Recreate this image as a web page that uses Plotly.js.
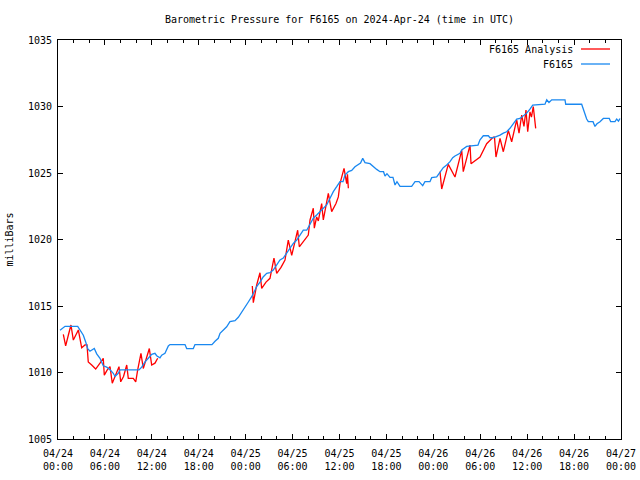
<!DOCTYPE html>
<html>
<head>
<meta charset="utf-8">
<script src="https://cdn.plot.ly/plotly-3.0.1.min.js"></script>
<style>html,body{margin:0;padding:0;background:#fff;}#chart{width:640px;height:480px;}</style>
</head>
<body>
<div id="chart"></div>
<script>
// Hours since 2024-04-24 00:00 UTC and pressure (mb)
var hBlue = [0.26,0.90,2.52,2.81,3.24,3.54,3.80,4.09,4.39,4.64,4.95,5.37,5.79,6.23,6.65,7.07,7.29,7.71,7.93,10.36,10.70,11.13,11.55,11.98,12.40,12.62,13.04,13.26,13.68,13.90,14.11,14.32,16.24,16.46,17.30,17.52,19.02,19.69,20.08,20.50,20.72,21.14,21.57,21.99,22.64,23.06,23.49,23.91,24.34,24.77,24.98,25.41,25.83,26.26,26.69,27.11,27.53,27.97,28.39,28.81,29.25,29.67,30.09,30.53,30.95,31.37,31.81,32.23,32.65,33.08,33.51,33.93,34.36,34.79,35.21,35.64,36.06,36.45,36.70,37.13,37.56,37.98,38.40,38.69,38.97,39.26,39.90,40.32,40.76,41.18,41.63,41.82,42.07,42.46,42.84,43.10,43.35,43.74,45.23,45.66,46.17,46.64,46.93,47.57,47.79,48.43,48.85,49.27,49.71,50.13,50.48,50.77,51.41,51.63,52.27,52.78,53.33,53.71,53.97,54.39,55.03,55.25,55.63,56.10,56.53,56.95,57.38,57.80,58.23,58.66,59.08,59.51,59.94,60.36,60.71,62.28,62.50,62.79,63.14,64.84,64.93,66.97,67.18,67.40,67.61,67.82,68.42,68.67,68.93,69.31,69.74,70.50,70.68,71.23,71.45,71.68,71.87];
var pBlue = [1013.17,1013.47,1013.47,1013.2,1012.8,1012.3,1011.8,1011.6,1011.7,1011.8,1011.4,1011.07,1010.5,1010.4,1010.2,1009.94,1009.7,1009.94,1010.2,1010.2,1010.4,1010.8,1011.07,1011.37,1011.44,1011.26,1011.1,1011.3,1011.44,1011.8,1012.0,1012.1,1012.1,1011.8,1011.8,1012.1,1012.1,1012.1,1012.35,1012.57,1012.95,1013.2,1013.44,1013.82,1013.9,1014.15,1014.57,1014.9,1015.3,1015.7,1015.95,1016.45,1016.8,1017.2,1017.46,1017.5,1017.7,1018.1,1018.46,1018.6,1018.96,1019.3,1019.7,1019.96,1020.3,1020.7,1020.7,1021.1,1021.6,1021.84,1022.1,1022.35,1022.6,1023.1,1023.6,1023.97,1024.35,1024.35,1024.85,1025.1,1025.2,1025.47,1025.6,1025.75,1026.1,1025.78,1025.7,1025.47,1025.27,1025.1,1025.1,1024.77,1024.95,1024.67,1024.67,1024.1,1024.35,1024.0,1024.0,1024.35,1024.35,1024.05,1024.35,1024.35,1024.65,1024.7,1025.1,1025.4,1025.6,1025.85,1026.15,1026.28,1026.48,1026.73,1027.0,1027.05,1027.1,1027.1,1027.5,1027.8,1027.8,1027.65,1027.65,1027.73,1027.85,1028.0,1028.1,1028.36,1028.73,1029.06,1029.1,1029.3,1029.5,1029.8,1030.1,1030.17,1030.5,1030.3,1030.5,1030.5,1030.17,1030.17,1029.74,1029.36,1029.06,1028.86,1028.86,1028.5,1028.7,1028.86,1029.1,1029.1,1028.86,1028.86,1029.06,1028.9,1029.1];

var hRed = [0.68,0.98,1.32,1.66,1.96,2.60,3.03,3.45,3.71,3.87,4.31,4.82,5.37,5.79,5.92,6.30,6.65,6.94,7.29,7.80,8.02,8.38,8.79,8.99,9.63,9.94,10.19,10.61,10.91,11.68,11.98,12.40,12.75,null,
  24.85,24.98,25.41,25.83,26.05,26.60,27.11,27.62,27.97,28.52,29.03,29.45,29.89,30.65,30.86,31.37,32.01,32.23,32.65,32.78,33.08,33.29,33.72,33.93,34.57,35.00,35.55,35.85,36.06,36.58,36.92,37.02,37.13,null,
  48.85,49.07,49.91,50.77,51.63,51.83,52.69,52.82,53.97,54.82,55.67,55.82,56.01,56.53,56.95,57.59,58.02,58.66,58.96,59.30,59.59,59.85,60.07,60.36,60.55,60.78,61.09];
var pRed = [1012.87,1012.0,1012.8,1013.57,1012.44,1013.2,1011.86,1012.07,1012.07,1010.8,1010.56,1010.26,1010.7,1011.07,1009.8,1010.2,1010.44,1009.2,1009.7,1010.44,1009.3,1009.7,1010.56,1009.56,1009.56,1009.3,1010.2,1011.44,1010.3,1011.8,1010.56,1010.7,1011.07,null,
  1016.5,1015.25,1016.58,1017.5,1016.33,1016.8,1017.08,1018.6,1017.46,1017.9,1018.46,1019.96,1018.8,1020.7,1019.45,1019.83,1020.33,1021.47,1022.35,1020.85,1021.7,1021.4,1022.7,1021.47,1023.47,1022.1,1022.7,1023.2,1024.2,1025.35,1024.2,1024.9,1023.85,null,
  1025.1,1023.8,1025.65,1024.7,1026.7,1025.1,1027.1,1025.7,1026.2,1027.2,1027.7,1027.7,1026.2,1027.6,1026.6,1028.2,1027.35,1029.0,1028.0,1029.36,1028.5,1029.74,1028.1,1029.6,1029.2,1030.0,1028.36];

var tickVals = ['2024-04-24 00:00','2024-04-24 06:00','2024-04-24 12:00','2024-04-24 18:00','2024-04-25 00:00','2024-04-25 06:00','2024-04-25 12:00','2024-04-25 18:00','2024-04-26 00:00','2024-04-26 06:00','2024-04-26 12:00','2024-04-26 18:00','2024-04-27 00:00'];
var tickText = ['04/24<br>00:00','04/24<br>06:00','04/24<br>12:00','04/24<br>18:00','04/25<br>00:00','04/25<br>06:00','04/25<br>12:00','04/25<br>18:00','04/26<br>00:00','04/26<br>06:00','04/26<br>12:00','04/26<br>18:00','04/27<br>00:00'];

var base = Date.UTC(2024,3,24,0,0,0);
function toDate(h){
  if (h === null) return null;
  var d = new Date(base + Math.round(h*3600000));
  return d.toISOString().slice(0,19).replace('T',' ');
}

var FONT = {family:'DejaVu Sans Mono, Liberation Mono, monospace', size:10, color:'#000'};

var traces = [
  {x: hRed.map(toDate), y: pRed, type:'scatter', mode:'lines', name:'F6165 Analysis',
   line:{color:'#ff0000', width:1.3}, connectgaps:false},
  {x: hBlue.map(toDate), y: pBlue, type:'scatter', mode:'lines', name:'F6165',
   line:{color:'#1a88f0', width:1.3}}
];

var layout = {
  width:640, height:480,
  margin:{l:58, r:19, t:40, b:41},
  paper_bgcolor:'#fff', plot_bgcolor:'#fff',
  font: FONT,
  showlegend:false,
  title:{text:'Barometric Pressure for F6165 on 2024-Apr-24 (time in UTC)', font:FONT,
         x:0.5, xref:'paper', xanchor:'center', y:1-19/480, yref:'container', yanchor:'middle'},
  xaxis:{type:'date', range:['2024-04-24 00:00','2024-04-27 00:00'],
    tickmode:'array', tickvals:tickVals, ticktext:tickText,
    ticks:'inside', ticklen:5, tickwidth:1, tickcolor:'#000',
    minor:{tickmode:'linear', tick0:'2024-04-24 00:00', dtick:7200000, ticks:'inside', ticklen:3, tickcolor:'#000', tickwidth:1},
    showline:true, linecolor:'#000', linewidth:1, mirror:'ticks',
    showgrid:false, zeroline:false, tickfont:FONT, ticklabelstandoff:5},
  yaxis:{range:[1005,1035], tickmode:'linear', tick0:1005, dtick:5,
    ticks:'inside', ticklen:5, tickwidth:1, tickcolor:'#000',
    showline:true, linecolor:'#000', linewidth:1, mirror:'ticks',
    showgrid:false, zeroline:false, tickfont:FONT, ticklabelstandoff:3,
    title:{text:'milliBars', font:FONT, standoff:12}},
  annotations:[
    {xref:'paper', yref:'paper', x:(575-58)/563, y:(439-49)/399, xanchor:'right', yanchor:'middle',
     text:'F6165 Analysis', showarrow:false, font:FONT},
    {xref:'paper', yref:'paper', x:(575-58)/563, y:(439-64)/399, xanchor:'right', yanchor:'middle',
     text:'F6165', showarrow:false, font:FONT}
  ],
  shapes:[
    {type:'line', xref:'paper', yref:'paper', x0:(581-58)/563, x1:(610-58)/563, y0:(439-49)/399, y1:(439-49)/399, line:{color:'#ff0000', width:1.3}},
    {type:'line', xref:'paper', yref:'paper', x0:(581-58)/563, x1:(610-58)/563, y0:(439-64)/399, y1:(439-64)/399, line:{color:'#1a88f0', width:1.3}}
  ]
};

Plotly.newPlot('chart', traces, layout, {staticPlot:true, displayModeBar:false});
</script>
</body>
</html>
